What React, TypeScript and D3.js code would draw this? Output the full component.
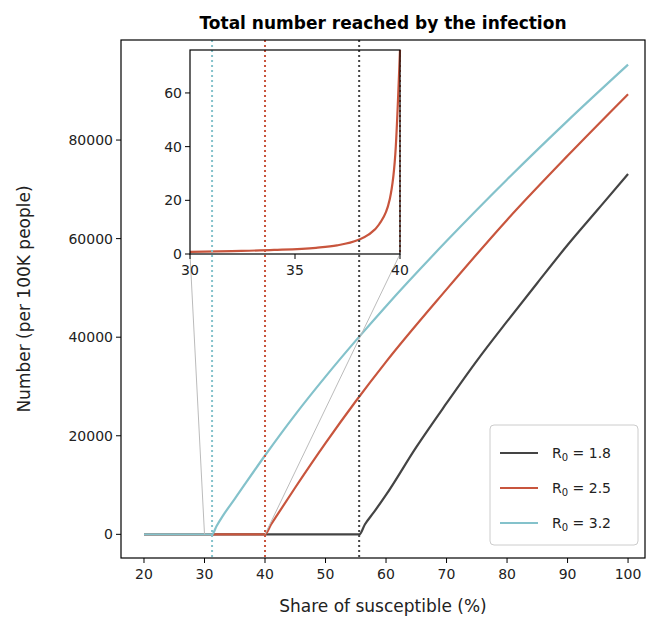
import { useEffect, useRef } from 'react';
import * as d3 from 'd3';

// share of susceptible (%) vs number reached (per 100K)
const xs18 = [20, 55.6, 56.5, 58, 60, 65, 70, 75, 80, 85, 90, 95, 100];
const ys18 = [0, 0, 2000, 4500, 8000, 17700, 26600, 35200, 43200, 51000, 58700, 65900, 73100];
const xs25 = [20, 40, 41, 42, 45, 50, 55, 60, 70, 80, 90, 100];
const ys25 = [0, 0, 2000, 3900, 9500, 18500, 27000, 35000, 49700, 63800, 76800, 89300];
const xs32 = [20, 31.25, 32, 33, 35, 40, 45, 50, 55, 60, 70, 80, 90, 100];
const ys32 = [0, 0, 1700, 3700, 7200, 16000, 24300, 32000, 39300, 46300, 59500, 72000, 83900, 95300];
// inset: R0 = 2.5 below threshold
const insetX = [30, 32, 34, 36, 37, 38, 38.5, 39, 39.5, 39.8, 40];
const insetY = [0.8, 1.1, 1.5, 2.3, 3.2, 5.2, 7.2, 11, 20, 40, 80];

const series = [
  { label: '1.8', color: '#444444', xs: xs18, ys: ys18, thr: 55.56 },
  { label: '2.5', color: '#c8553d', xs: xs25, ys: ys25, thr: 40 },
  { label: '3.2', color: '#84c2cb', xs: xs32, ys: ys32, thr: 31.25 },
];
const xTicks = [20, 30, 40, 50, 60, 70, 80, 90, 100];
const yTicks = [0, 20000, 40000, 60000, 80000];

export default function App() {
  const ref = useRef<SVGSVGElement>(null);
  useEffect(() => {
    const svg = d3.select(ref.current!);
    svg.selectAll('*').remove();
    const font = 'DejaVu Sans, sans-serif';
    const L = 121, R = 645, T = 40, B = 558;
    const x = d3.scaleLinear().domain([16.2, 102.8]).range([L, R]);
    const y = d3.scaleLinear().domain([-4800, 100300]).range([B, T]);

    svg.append('text').attr('x', 383).attr('y', 29).attr('text-anchor', 'middle')
      .attr('font-family', font).attr('font-weight', 'bold').attr('font-size', 17).text('Total number reached by the infection');

    const line = d3.line<[number, number]>().x(d => x(d[0])).y(d => y(d[1])).curve(d3.curveMonotoneX);
    series.forEach(s => {
      svg.append('path').datum(s.xs.map((v, i) => [v, s.ys[i]] as [number, number]))
        .attr('d', line).attr('fill', 'none').attr('stroke', s.color).attr('stroke-width', 2.2);
    });

    // inset
    const iL = 190, iR = 400, iT = 50, iB = 254;
    const ix = d3.scaleLinear().domain([30, 40]).range([iL, iR]);
    const iy = d3.scaleLinear().domain([0, 76]).range([iB, iT]);
    // connectors
    svg.append('line').attr('x1', iL).attr('y1', iB).attr('x2', x(30)).attr('y2', y(0)).attr('stroke', '#bbb').attr('stroke-width', 1);
    svg.append('line').attr('x1', iR).attr('y1', iB).attr('x2', x(40)).attr('y2', y(0)).attr('stroke', '#bbb').attr('stroke-width', 1);
    svg.append('rect').attr('x', iL).attr('y', iT).attr('width', iR - iL).attr('height', iB - iT).attr('fill', '#fff');
    svg.append('path').datum(insetX.map((v, i) => [v, Math.min(insetY[i], 80)] as [number, number]))
      .attr('d', d3.line<[number, number]>().x(d => ix(d[0])).y(d => Math.max(iy(d[1]), iT)).curve(d3.curveMonotoneX))
      .attr('fill', 'none').attr('stroke', '#c8553d').attr('stroke-width', 2.2);
    svg.append('line').attr('x1', iR).attr('x2', iR).attr('y1', iT).attr('y2', iB)
      .attr('stroke', '#c8553d').attr('stroke-width', 2).attr('stroke-dasharray', '2,3');

    // threshold lines
    series.forEach(s => {
      svg.append('line').attr('x1', x(s.thr)).attr('x2', x(s.thr)).attr('y1', T).attr('y2', B)
        .attr('stroke', s.color).attr('stroke-width', 2).attr('stroke-dasharray', '2,3');
    });

    svg.append('rect').attr('x', iL).attr('y', iT).attr('width', iR - iL).attr('height', iB - iT)
      .attr('fill', 'none').attr('stroke', '#000').attr('stroke-width', 1.2);
    const ia = svg.append('g').attr('font-family', font).attr('font-size', 14).attr('fill', '#222');
    [30, 35, 40].forEach(t => {
      ia.append('line').attr('x1', ix(t)).attr('x2', ix(t)).attr('y1', iB).attr('y2', iB + 5).attr('stroke', '#000');
      ia.append('text').attr('x', ix(t)).attr('y', iB + 21).attr('text-anchor', 'middle').text(t);
    });
    [0, 20, 40, 60].forEach(t => {
      ia.append('line').attr('x1', iL - 5).attr('x2', iL).attr('y1', iy(t)).attr('y2', iy(t)).attr('stroke', '#000');
      ia.append('text').attr('x', iL - 8).attr('y', iy(t) + 5).attr('text-anchor', 'end').text(t);
    });

    // main frame and axes
    svg.append('rect').attr('x', L).attr('y', T).attr('width', R - L).attr('height', B - T)
      .attr('fill', 'none').attr('stroke', '#000').attr('stroke-width', 1.2);
    const ax = svg.append('g').attr('font-family', font).attr('font-size', 14).attr('fill', '#222');
    xTicks.forEach(t => {
      ax.append('line').attr('x1', x(t)).attr('x2', x(t)).attr('y1', B).attr('y2', B + 5).attr('stroke', '#000');
      ax.append('text').attr('x', x(t)).attr('y', B + 21).attr('text-anchor', 'middle').text(t);
    });
    yTicks.forEach(t => {
      ax.append('line').attr('x1', L - 5).attr('x2', L).attr('y1', y(t)).attr('y2', y(t)).attr('stroke', '#000');
      ax.append('text').attr('x', L - 8).attr('y', y(t) + 5).attr('text-anchor', 'end').text(t);
    });
    ax.append('text').attr('x', 383).attr('y', 612).attr('text-anchor', 'middle').attr('font-size', 17).text('Share of susceptible (%)');
    ax.append('text').attr('transform', `translate(30,${(T + B) / 2}) rotate(-90)`).attr('text-anchor', 'middle').attr('font-size', 17).text('Number (per 100K people)');

    // legend
    const lg = svg.append('g').attr('transform', 'translate(490,425)');
    lg.append('rect').attr('width', 148).attr('height', 120).attr('rx', 4).attr('fill', '#fff').attr('fill-opacity', 0.85).attr('stroke', '#ccc');
    series.forEach((s, i) => {
      const yy = 28 + i * 35;
      lg.append('line').attr('x1', 10).attr('x2', 48).attr('y1', yy).attr('y2', yy).attr('stroke', s.color).attr('stroke-width', 2.2);
      const t = lg.append('text').attr('x', 62).attr('y', yy + 5).attr('font-family', font).attr('font-size', 14).attr('fill', '#222');
      t.append('tspan').text('R');
      t.append('tspan').attr('font-size', 10).attr('dy', 3).text('0');
      t.append('tspan').attr('dy', -3).text(` = ${s.label}`);
    });
  }, []);
  return <svg ref={ref} width={647} height={619} style={{ position: 'absolute', left: 0, top: 0 }} />;
}
